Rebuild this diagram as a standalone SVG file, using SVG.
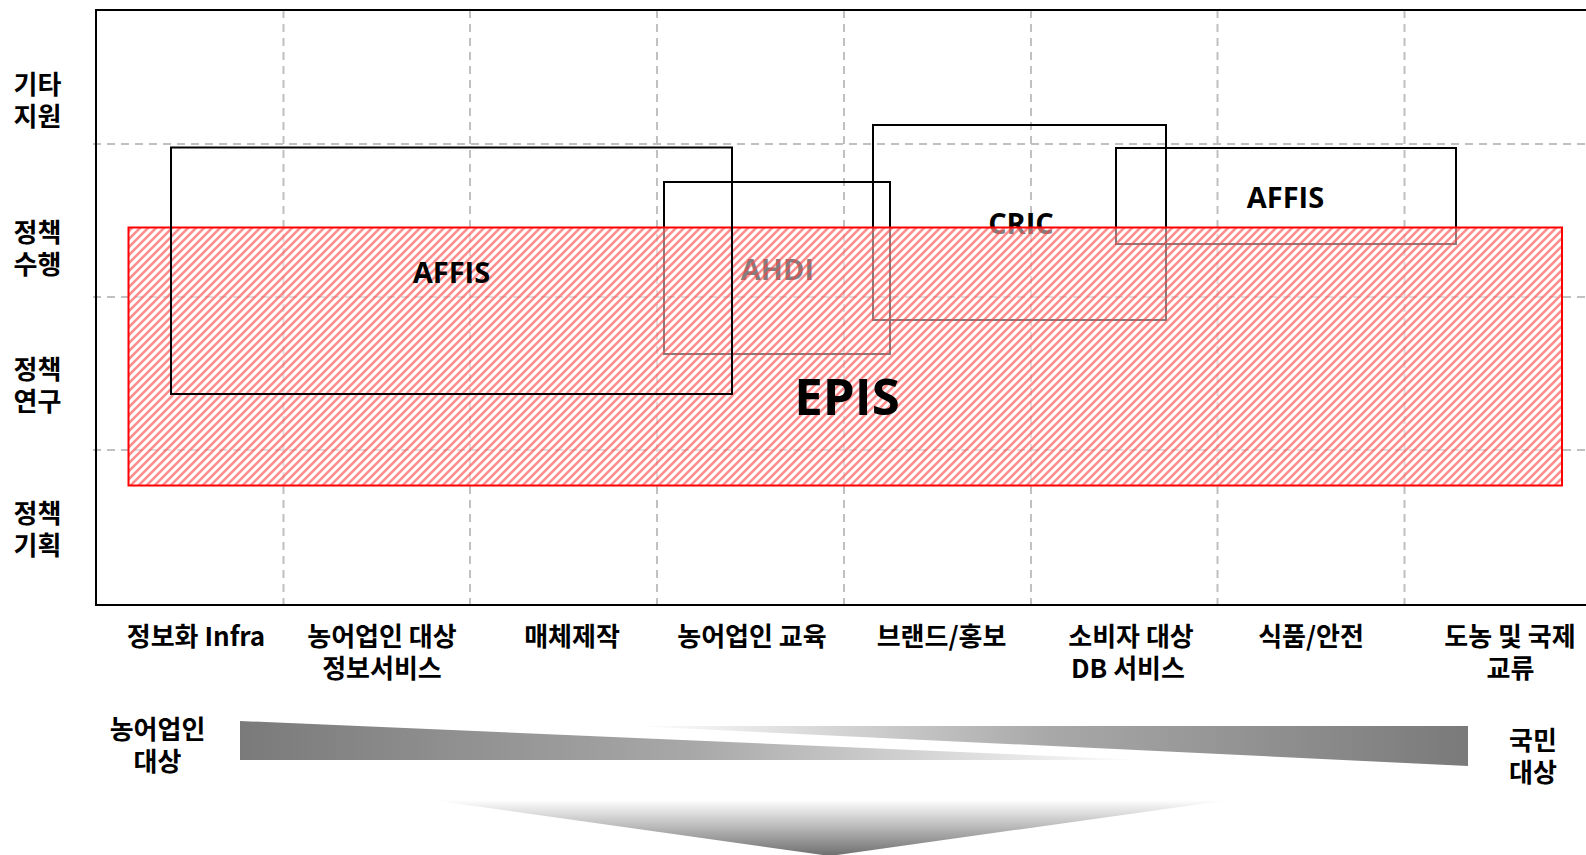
<svg xmlns="http://www.w3.org/2000/svg" width="1586" height="855" viewBox="0 0 1586 855">
<style>
.grid{stroke:#c0c0c0;stroke-width:2;stroke-dasharray:8 6;fill:none}
.frame{stroke:#000;stroke-width:2;fill:none}
.box{stroke:#000;stroke-width:2;fill:none}
.lbl{font-family:"Noto Sans CJK KR","Noto Sans",sans-serif;font-weight:bold;font-size:26px;fill:#000;text-anchor:middle}
.nm{font-family:"Open Sans","Noto Sans",sans-serif;font-weight:bold;font-size:29px;fill:#000;text-anchor:middle}
</style>
<defs>
<pattern id="hatch" patternUnits="userSpaceOnUse" width="8" height="8">
<rect width="8" height="8" fill="#fff" fill-opacity="0.5"/>
<path d="M-2,2 L2,-2 M0,8 L8,0 M6,10 L10,6" stroke="#ff4040" stroke-width="2.6" stroke-opacity="0.6"/>
</pattern>
<linearGradient id="gL" gradientUnits="userSpaceOnUse" x1="240" y1="0" x2="1146" y2="0">
<stop offset="0" stop-color="#7a7a7a"/><stop offset="0.5" stop-color="#a8a8a8"/><stop offset="1" stop-color="#ffffff"/>
</linearGradient>
<linearGradient id="gR" gradientUnits="userSpaceOnUse" x1="632" y1="0" x2="1468" y2="0">
<stop offset="0" stop-color="#ffffff"/><stop offset="0.5" stop-color="#a8a8a8"/><stop offset="1" stop-color="#7a7a7a"/>
</linearGradient>
<linearGradient id="gD" gradientUnits="userSpaceOnUse" x1="0" y1="790" x2="0" y2="856">
<stop offset="0" stop-color="#ffffff"/><stop offset="0.15" stop-color="#ffffff"/><stop offset="1" stop-color="#6e6e6e"/>
</linearGradient>
</defs>

<g id="grid">
<line class="grid" x1="93" y1="144" x2="1586" y2="144"/>
<line class="grid" x1="93" y1="297" x2="1586" y2="297"/>
<line class="grid" x1="93" y1="450" x2="1586" y2="450"/>
<line class="grid" x1="283.5" y1="10" x2="283.5" y2="605"/>
<line class="grid" x1="470" y1="10" x2="470" y2="605"/>
<line class="grid" x1="657" y1="10" x2="657" y2="605"/>
<line class="grid" x1="844" y1="10" x2="844" y2="605"/>
<line class="grid" x1="1031" y1="10" x2="1031" y2="605"/>
<line class="grid" x1="1217.5" y1="10" x2="1217.5" y2="605"/>
<line class="grid" x1="1404.5" y1="10" x2="1404.5" y2="605"/>
</g>
<g id="frame">
<path class="frame" d="M1586,10 H96 V605 H1586"/>
</g>

<g id="node-ahdi">
<rect class="box" x="664" y="182" width="226" height="172"/>
<text class="nm" x="777.5" y="280">AHDI</text>
</g>
<g id="node-cric">
<rect class="box" x="873" y="125" width="293" height="195"/>
<text class="nm" x="1021" y="234">CRIC</text>
</g>
<g id="node-affis-right">
<rect class="box" x="1116" y="148" width="340" height="96"/>
<text class="nm" x="1285.5" y="207.5">AFFIS</text>
</g>

<g id="node-epis">
<rect x="128.5" y="227.5" width="1433.5" height="258" fill="url(#hatch)" stroke="#ff0000" stroke-width="2"/>
</g>

<g id="node-affis-left">
<rect class="box" x="171" y="147.5" width="561" height="246.5"/>
<text class="nm" x="451.5" y="282.5">AFFIS</text>
</g>
<g id="node-epis-label">
<text class="nm" x="847" y="415" style="font-size:51px">EPIS</text>
</g>

<g id="row-labels">
<text class="lbl" y="93.5"><tspan x="37.5">기타</tspan><tspan x="37.5" dy="32">지원</tspan></text>
<text class="lbl" y="242"><tspan x="37.5">정책</tspan><tspan x="37.5" dy="32">수행</tspan></text>
<text class="lbl" y="378.5"><tspan x="37.5">정책</tspan><tspan x="37.5" dy="32">연구</tspan></text>
<text class="lbl" y="522.5"><tspan x="37.5">정책</tspan><tspan x="37.5" dy="32">기획</tspan></text>
</g>

<g id="column-labels">
<text class="lbl" x="196" y="645.5">정보화 Infra</text>
<text class="lbl" y="645.5"><tspan x="382">농어업인 대상</tspan><tspan x="382" dy="32">정보서비스</tspan></text>
<text class="lbl" x="572" y="645.5">매체제작</text>
<text class="lbl" x="752" y="645.5">농어업인 교육</text>
<text class="lbl" x="941.5" y="645.5">브랜드/홍보</text>
<text class="lbl" y="645.5"><tspan x="1131">소비자 대상</tspan><tspan x="1128" dy="32">DB 서비스</tspan></text>
<text class="lbl" x="1311" y="645.5">식품/안전</text>
<text class="lbl" y="645.5"><tspan x="1510">도농 및 국제</tspan><tspan x="1510.5" dy="32">교류</tspan></text>
</g>

<g id="audience">
<polygon points="240,721 240,760 1146,760" fill="url(#gL)"/>
<polygon points="632,726 1468,726 1468,766" fill="url(#gR)"/>
<text class="lbl" y="739"><tspan x="157.5">농어업인</tspan><tspan x="157.5" dy="32">대상</tspan></text>
<text class="lbl" y="749.5"><tspan x="1533">국민</tspan><tspan x="1533" dy="32">대상</tspan></text>
</g>

<g id="down-arrow">
<polygon points="360,790 1300,790 830,856" fill="url(#gD)"/>
</g>
</svg>
